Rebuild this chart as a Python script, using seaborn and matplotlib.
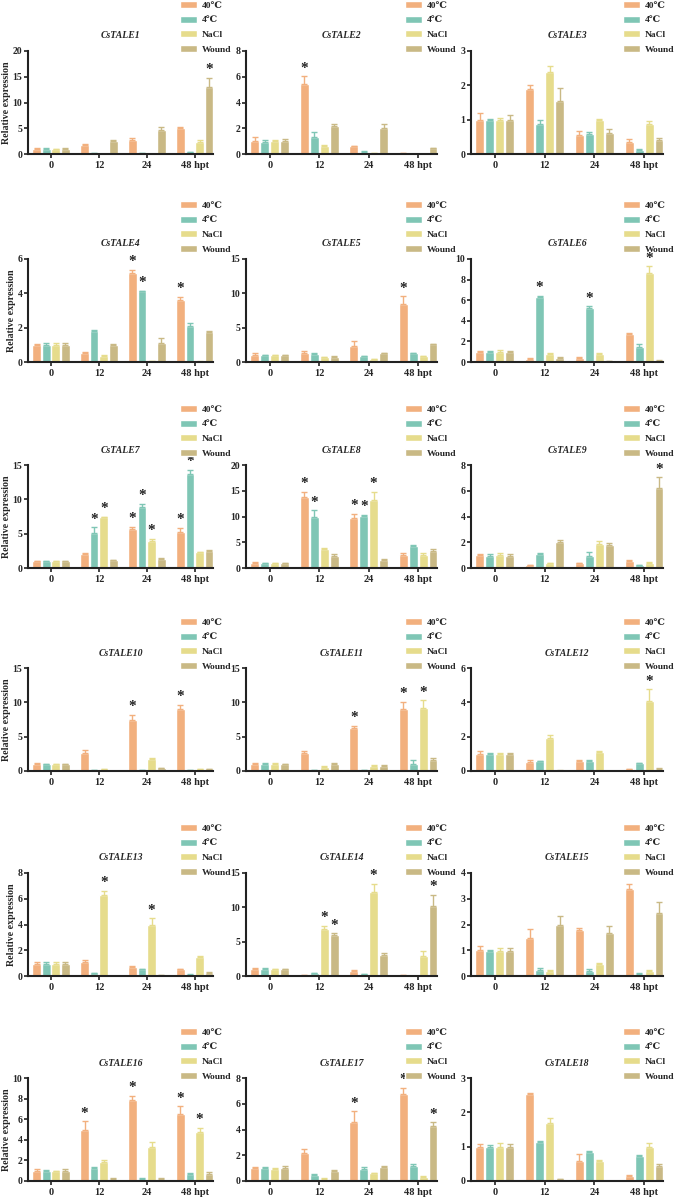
"""
CsTALE expression under abiotic stress / wounding
Grouped bar charts (mean + upper SD) with significance stars, 6 x 3 panels.
"""

import numpy as np
import pandas as pd
import matplotlib
matplotlib.use('Agg')
import matplotlib.pyplot as plt
import seaborn as sns

# ── Categories ──
GENES = [f'CsTALE{i}' for i in range(1, 19)]
TIMES = ['0', '12', '24', '48']
TIME_LABELS = ['0', '12', '24', '48 hpt']
TREATMENTS = ['40℃', '4℃', 'NaCl', 'Wound']
COLORS = ['#F2B07E', '#7FC6B5', '#E6DC8C', '#C9B985']

# y axis range per gene (max, step)
Y_MAX = [20, 8, 3, 6, 15, 10, 15, 20, 8, 15, 15, 6, 8, 15, 4, 10, 8, 3]
Y_STEP = [5, 2, 1, 2, 5, 2, 5, 5, 2, 5, 5, 2, 2, 5, 1, 2, 2, 1]

# ── Values: one row per gene, columns = 0, 12, 24, 48 hpt ──
heat40 = [
    [1.0, 1.8, 2.65, 5.0], [1.0, 5.44, 0.6, 0.06], [1.0, 1.9, 0.55, 0.36],
    [1.0, 0.52, 5.19, 3.62], [1.0, 1.3, 2.4, 8.5], [1.0, 0.3, 0.38, 2.7],
    [1.0, 2.1, 5.67, 5.29], [1.0, 13.8, 9.74, 2.5], [1.0, 0.22, 0.37, 0.55],
    [0.95, 2.6, 7.45, 9.0], [1.0, 2.65, 6.2, 9.0], [1.0, 0.52, 0.6, 0.1],
    [0.95, 1.1, 0.7, 0.52], [1.0, 0.15, 0.8, 0.1], [1.0, 1.48, 1.77, 3.37],
    [1.0, 4.95, 7.85, 6.5], [1.0, 2.2, 4.6, 6.75], [1.0, 2.53, 0.57, 0.15],
]
heat40_err = [
    [0.2, 0.15, 0.55, 0.2], [0.35, 0.6, 0.05, 0.02], [0.19, 0.12, 0.12, 0.08],
    [0.05, 0.08, 0.17, 0.18], [0.25, 0.3, 0.6, 1.1], [0.05, 0.04, 0.12, 0.15],
    [0.05, 0.08, 0.35, 0.55], [0.1, 0.95, 0.8, 0.5], [0.05, 0.03, 0.04, 0.05],
    [0.2, 0.45, 0.75, 0.65], [0.2, 0.3, 0.4, 1.05], [0.15, 0.1, 0.06, 0.03],
    [0.15, 0.12, 0.05, 0.06], [0.1, 0.03, 0.08, 0.03], [0.15, 0.35, 0.1, 0.22],
    [0.12, 0.85, 0.4, 0.75], [0.1, 0.3, 0.8, 0.5], [0.07, 0.02, 0.22, 0.02],
]
cold4 = [
    [1.0, 0.15, 0.15, 0.3], [0.97, 1.3, 0.18, 0.02], [0.98, 0.87, 0.57, 0.12],
    [1.0, 1.82, 4.12, 2.08], [0.98, 1.13, 0.85, 1.25], [1.0, 6.3, 5.27, 1.5],
    [1.0, 5.1, 8.94, 13.75], [1.0, 9.87, 10.1, 4.35], [0.97, 1.05, 0.9, 0.2],
    [1.0, 0.1, 0.1, 0.1], [1.0, 0.1, 0.15, 1.0], [1.0, 0.58, 0.57, 0.45],
    [0.97, 0.2, 0.52, 0.1], [1.0, 0.4, 0.25, 0.05], [0.98, 0.25, 0.2, 0.08],
    [1.0, 1.25, 0.2, 0.65], [1.0, 0.45, 0.97, 1.2], [1.0, 1.13, 0.85, 0.73],
]
cold4_err = [
    [0.15, 0.03, 0.03, 0.1], [0.1, 0.44, 0.05, 0.01], [0.05, 0.12, 0.07, 0.03],
    [0.1, 0.06, 0.04, 0.17], [0.08, 0.25, 0.08, 0.08], [0.04, 0.12, 0.15, 0.22],
    [0.08, 0.8, 0.4, 0.55], [0.05, 1.3, 0.2, 0.12], [0.1, 0.12, 0.37, 0.05],
    [0.08, 0.02, 0.02, 0.02], [0.1, 0.02, 0.03, 0.6], [0.05, 0.03, 0.06, 0.04],
    [0.1, 0.05, 0.06, 0.03], [0.15, 0.05, 0.1, 0.02], [0.03, 0.07, 0.07, 0.03],
    [0.08, 0.1, 0.05, 0.12], [0.12, 0.08, 0.1, 0.15], [0.05, 0.03, 0.03, 0.04],
]
nacl = [
    [0.95, 0.05, 0.03, 2.3], [0.98, 0.65, 0.06, 0.01], [0.99, 2.4, 1.0, 0.88],
    [1.0, 0.37, 0.06, 0.02], [1.0, 0.72, 0.45, 0.85], [1.0, 0.75, 0.75, 8.6],
    [1.0, 7.4, 4.0, 2.3], [0.95, 3.7, 13.3, 2.6], [1.0, 0.37, 1.9, 0.4],
    [1.0, 0.25, 1.75, 0.25], [1.0, 0.6, 0.8, 9.2], [1.0, 1.95, 1.13, 4.1],
    [0.97, 6.32, 4.0, 1.47], [0.95, 6.83, 12.3, 2.95], [0.98, 0.2, 0.47, 0.2],
    [0.95, 1.87, 3.33, 4.8], [0.95, 0.17, 0.6, 0.3], [1.0, 1.68, 0.57, 0.98],
]
nacl_err = [
    [0.1, 0.02, 0.02, 0.35], [0.1, 0.07, 0.02, 0.01], [0.06, 0.17, 0.02, 0.08],
    [0.12, 0.04, 0.02, 0.01], [0.08, 0.05, 0.05, 0.05], [0.12, 0.17, 0.1, 0.68],
    [0.05, 0.1, 0.25, 0.08], [0.1, 0.25, 1.5, 0.3], [0.2, 0.05, 0.2, 0.05],
    [0.08, 0.05, 0.15, 0.05], [0.2, 0.1, 0.1, 1.1], [0.07, 0.15, 0.05, 0.65],
    [0.08, 0.3, 0.5, 0.12], [0.08, 0.45, 1.1, 0.65], [0.12, 0.03, 0.05, 0.05],
    [0.06, 0.15, 0.45, 0.35], [0.05, 0.04, 0.04, 0.1], [0.12, 0.15, 0.05, 0.13],
]
wound = [
    [0.95, 2.45, 4.6, 13.0], [0.98, 2.2, 2.0, 0.45], [1.0, 1.53, 0.6, 0.4],
    [1.0, 1.0, 1.12, 1.73], [0.98, 0.75, 1.28, 2.55], [1.0, 0.4, 0.1, 0.12],
    [1.0, 1.15, 1.3, 2.45], [0.95, 2.4, 1.65, 3.3], [0.97, 2.0, 1.77, 6.2],
    [0.95, 0.05, 0.4, 0.3], [0.95, 1.0, 0.8, 1.6], [1.0, 0.02, 0.01, 0.12],
    [0.95, 0.02, 0.07, 0.25], [0.95, 6.0, 3.05, 10.2], [0.98, 1.98, 1.67, 2.45],
    [1.0, 0.18, 0.2, 0.7], [1.0, 0.75, 1.05, 4.3], [1.0, 0.05, 0.0, 0.45],
]
wound_err = [
    [0.2, 0.35, 0.65, 1.85], [0.15, 0.12, 0.33, 0.05], [0.15, 0.39, 0.12, 0.08],
    [0.08, 0.06, 0.25, 0.1], [0.08, 0.08, 0.1, 0.12], [0.06, 0.08, 0.03, 0.03],
    [0.05, 0.08, 0.1, 0.1], [0.1, 0.4, 0.15, 0.45], [0.1, 0.2, 0.2, 0.85],
    [0.08, 0.02, 0.05, 0.05], [0.1, 0.1, 0.1, 0.25], [0.07, 0.01, 0.01, 0.05],
    [0.15, 0.01, 0.02, 0.05], [0.08, 0.25, 0.35, 1.6], [0.1, 0.35, 0.28, 0.43],
    [0.17, 0.08, 0.05, 0.15], [0.15, 0.1, 0.15, 0.25], [0.07, 0.02, 0.0, 0.04],
]

# ── Significance marks: (gene no, time, treatment) ──
STARS = [
    (1, '48', 'Wound'), (2, '12', '40℃'),
    (4, '24', '40℃'), (4, '24', '4℃'), (4, '48', '40℃'),
    (5, '48', '40℃'),
    (6, '12', '4℃'), (6, '24', '4℃'), (6, '48', 'NaCl'),
    (7, '12', '4℃'), (7, '12', 'NaCl'), (7, '24', '40℃'), (7, '24', '4℃'),
    (7, '24', 'NaCl'), (7, '48', '40℃'), (7, '48', '4℃'),
    (8, '12', '40℃'), (8, '12', '4℃'), (8, '24', '40℃'), (8, '24', '4℃'),
    (8, '24', 'NaCl'),
    (9, '48', 'Wound'),
    (10, '24', '40℃'), (10, '48', '40℃'),
    (11, '24', '40℃'), (11, '48', '40℃'), (11, '48', 'NaCl'),
    (12, '48', 'NaCl'),
    (13, '12', 'NaCl'), (13, '24', 'NaCl'),
    (14, '12', 'NaCl'), (14, '12', 'Wound'), (14, '24', 'NaCl'), (14, '48', 'Wound'),
    (15, '48', '40℃'),
    (16, '12', '40℃'), (16, '24', '40℃'), (16, '48', '40℃'), (16, '48', 'NaCl'),
    (17, '24', '40℃'), (17, '48', '40℃'), (17, '48', 'Wound'),
]

# ── Layout (pixels of the 675 x 1199 canvas) ──
W, H = 675, 1199
COL_LEFT = [28, 246, 471]
COL_WIDTH = [185, 191, 192]
ROW_TOP = [51, 259, 465, 668, 873, 1078]
ROW_HEIGHT = 103
LEGEND_X = [0.82, 0.83, 0.79]
LEGEND_RISE = [50, 58, 60, 50, 49, 50]   # legend top above axes top, px

FONT = ['Liberation Serif', 'DejaVu Serif']


def gene_frame(i):
    """Long-form table of one gene for seaborn."""
    rows = []
    series = zip(TREATMENTS, (heat40, cold4, nacl, wound),
                 (heat40_err, cold4_err, nacl_err, wound_err))
    for tr, vals, errs in series:
        for t_idx, t in enumerate(TIMES):
            rows.append({'time': t, 'treatment': tr,
                         'value': vals[i][t_idx], 'err': errs[i][t_idx]})
    return pd.DataFrame(rows)


def draw_panel(ax, i, row, col):
    df = gene_frame(i)
    sns.barplot(data=df, x='time', y='value', hue='treatment',
                order=TIMES, hue_order=TREATMENTS, palette=COLORS,
                errorbar=None, width=0.8, gap=0.1, saturation=1,
                ax=ax)
    bars = list(ax.containers[:4])

    # upper-only error bars
    for cont, tr, colr in zip(bars, TREATMENTS, COLORS):
        sub = df[df.treatment == tr].set_index('time').loc[TIMES]
        xs = [b.get_x() + b.get_width() / 2 for b in cont]
        ax.errorbar(xs, sub['value'], yerr=[np.zeros(4), sub['err']],
                    fmt='none', ecolor=colr, elinewidth=1.0,
                    capsize=2, capthick=1.0)

    # stars
    for g, t, tr in STARS:
        if g != i + 1:
            continue
        sub = df[(df.time == t) & (df.treatment == tr)].iloc[0]
        bar = bars[TREATMENTS.index(tr)][TIMES.index(t)]
        x = bar.get_x() + bar.get_width() / 2
        y = sub['value'] + sub['err'] + Y_MAX[i] * 0.015
        ax.text(x, y, '*', ha='center', va='bottom', fontsize=11,
                family=FONT, color='#222222', clip_on=False)

    ax.set_ylim(0, Y_MAX[i])
    ax.set_yticks(np.arange(0, Y_MAX[i] + Y_STEP[i] / 2, Y_STEP[i]))
    ax.yaxis.set_major_formatter(matplotlib.ticker.FormatStrFormatter('%g'))
    ax.set_xlim(-0.48, 3.38)
    ax.set_xticks(range(4))
    ax.set_xticklabels(TIME_LABELS)
    ax.set_xlabel('')
    ax.set_ylabel('Relative expression' if col == 0 else '',
                  fontsize=7.2, fontweight='bold', labelpad=1)
    ax.set_title(GENES[i], fontstyle='italic', fontweight='bold',
                 fontsize=7, pad=9)

    for side in ('top', 'right'):
        ax.spines[side].set_visible(False)
    for side in ('left', 'bottom'):
        ax.spines[side].set_linewidth(1.5)
        ax.spines[side].set_color('#222222')
    ax.tick_params(length=3, width=1.2, pad=2, color='#222222')
    ax.tick_params(axis='y', labelsize=7, pad=1)
    ax.tick_params(axis='x', labelsize=7.5)

    rise = 1 + LEGEND_RISE[row] / ROW_HEIGHT
    ax.legend(loc='upper left', bbox_to_anchor=(LEGEND_X[col], rise),
              frameon=False, fontsize=6.8, handlelength=1.8,
              handleheight=0.8, labelspacing=0.6, handletextpad=0.55,
              borderpad=0, borderaxespad=0)


sns.set_style('ticks')
plt.rcParams['font.family'] = FONT
plt.rcParams['font.weight'] = 'bold'
plt.rcParams['axes.labelweight'] = 'bold'

fig = plt.figure(figsize=(W / 100, H / 100), dpi=100)
for i in range(len(GENES)):
    r, c = divmod(i, 3)
    left = COL_LEFT[c] / W
    bottom = 1 - (ROW_TOP[r] + ROW_HEIGHT) / H
    ax = fig.add_axes([left, bottom, COL_WIDTH[c] / W, ROW_HEIGHT / H])
    draw_panel(ax, i, r, c)

fig.savefig('out.png', dpi=100)
plt.close(fig)
